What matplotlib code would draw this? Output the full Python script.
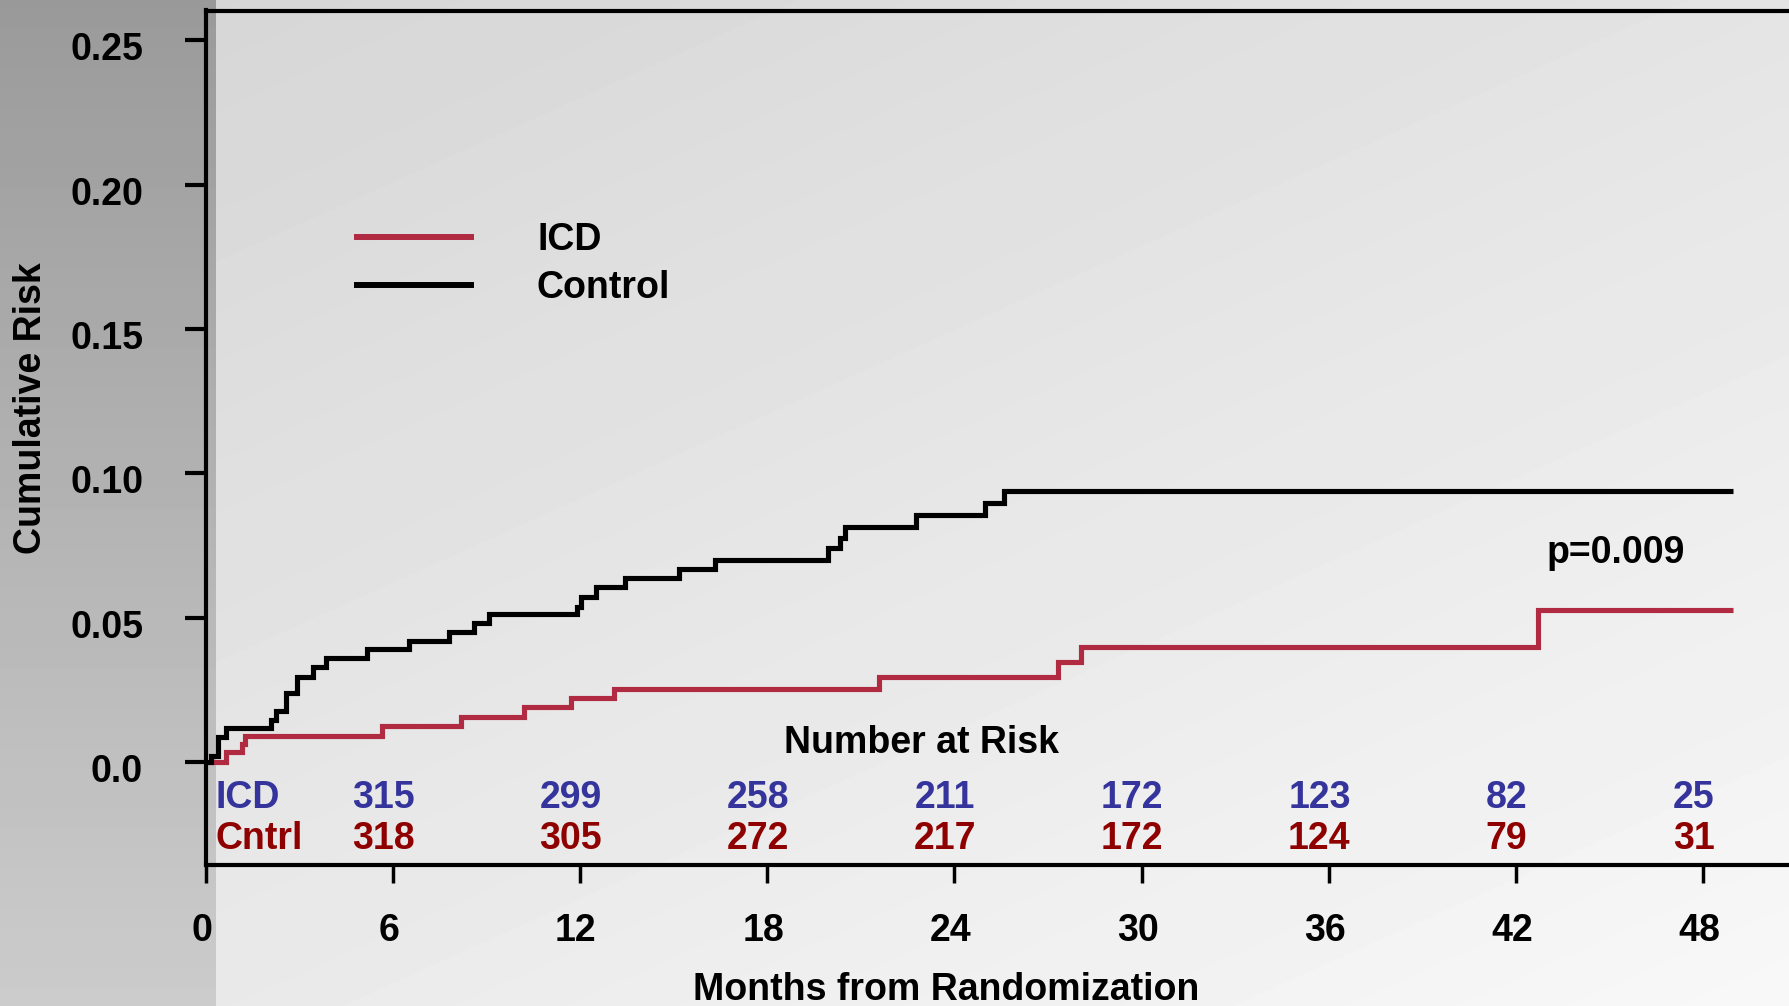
import numpy as np
import matplotlib
matplotlib.use('Agg')
import matplotlib.pyplot as plt
import matplotlib.transforms as mtransforms
from matplotlib.lines import Line2D

plt.rcParams['font.family'] = ['Liberation Sans', 'DejaVu Sans']
plt.rcParams['font.weight'] = 'bold'

# Kaplan-Meier style cumulative risk (months, risk)
control_months = [0, 0.18, 0.41, 0.67, 2.1, 2.27, 2.57, 2.94, 3.43, 3.86, 5.18, 6.52, 7.8, 8.6,
                  9.08, 11.91, 12.02, 12.5, 13.46, 15.17, 16.33, 19.94, 20.32, 20.49, 22.77,
                  24.99, 25.59, 48.97]
control_risk = [0, 0.002, 0.0085, 0.0117, 0.0145, 0.0178, 0.0238, 0.0295, 0.033, 0.0359, 0.039,
                0.0419, 0.0451, 0.048, 0.0511, 0.0538, 0.0572, 0.0605, 0.0636, 0.0667, 0.070,
                0.074, 0.0775, 0.0815, 0.0855, 0.0896, 0.0939, 0.0939]

icd_months = [0, 0.65, 1.16, 1.28, 5.67, 8.19, 10.2, 11.73, 13.1, 21.6, 27.33, 28.06, 42.69, 48.97]
icd_risk = [0, 0.0036, 0.0061, 0.009, 0.0125, 0.0155, 0.0189, 0.0222, 0.0253, 0.0295, 0.0347,
            0.0397, 0.0525, 0.0525]

# number at risk table
risk_months = [6, 12, 18, 24, 30, 36, 42, 48]
icd_at_risk = [315, 299, 258, 211, 172, 123, 82, 25]
cntrl_at_risk = [318, 305, 272, 217, 172, 124, 79, 31]

x_ticks = list(range(0, 49, 6))
y_ticks = [0.0, 0.05, 0.10, 0.15, 0.20, 0.25]
y_tick_labels = ['0.0', '0.05', '0.10', '0.15', '0.20', '0.25']

ICD_RED = '#b02a42'
ROW_BLUE = '#34349c'
ROW_RED = '#8f0000'
FS = 27

W, H = 1789, 1006
fig = plt.figure(figsize=(W / 100, H / 100), dpi=100)

# slide-like gray background with darker band on the left
bg = fig.add_axes([0, 0, 1, 1])
bg.axis('off')
yy, xx = np.mgrid[0:1:H * 1j, 0:1:W * 1j]
main = 212 + 16 * xx + 20 * yy
band = 154 + 50 * yy
img = np.where(xx < 216 / W, band, main) / 255.0
bg.imshow(img, cmap='gray', vmin=0, vmax=1, aspect='auto', extent=[0, 1, 0, 1],
          origin='upper', interpolation='bilinear')
bg.set_xlim(0, 1)
bg.set_ylim(0, 1)

left = 205.5 / W
bottom = 1 - 864.5 / H
top = 1 - 10.5 / H
ax = fig.add_axes([left, bottom, 1 - left, top - bottom])
ax.patch.set_alpha(0)

ax.step(control_months, control_risk, where='post', color='black', lw=3.7,
        solid_joinstyle='miter', solid_capstyle='butt', zorder=3)
ax.step(icd_months, icd_risk, where='post', color=ICD_RED, lw=3.7,
        solid_joinstyle='miter', solid_capstyle='butt', zorder=2)

ax.set_xlim(0, 50.75)
ax.set_ylim(-0.0355, 0.2603)
ax.spines['right'].set_visible(False)
for s in ['left', 'top', 'bottom']:
    ax.spines[s].set_linewidth(3)

ax.set_xticks(x_ticks)
ax.set_yticks(y_ticks)
ax.set_yticklabels(y_tick_labels)
ax.tick_params(axis='y', length=15, width=3, pad=30, labelsize=FS)
ax.tick_params(axis='x', length=13, width=2.5, pad=22, labelsize=FS)

# tick labels sit a little off their ticks in the original
dx = mtransforms.ScaledTranslation(-4 / 100, 0, fig.dpi_scale_trans)
for lab in ax.get_xticklabels():
    lab.set_transform(lab.get_transform() + dx)
dy = mtransforms.ScaledTranslation(0, -6 / 100, fig.dpi_scale_trans)
for lab in ax.get_yticklabels():
    lab.set_transform(lab.get_transform() + dy)

ax.set_xlabel('Months from Randomization', fontsize=FS, fontweight='bold')
ax.xaxis.set_label_coords(0.468, -0.1465)
ax.xaxis.label.set_verticalalignment('center')
ax.set_ylabel('Cumulative Risk', fontsize=FS, fontweight='bold')
ax.yaxis.set_label_coords(-0.110, 0.5345)
ax.yaxis.label.set_verticalalignment('center')

# legend
handles = [Line2D([], [], color=ICD_RED, lw=4.3), Line2D([], [], color='black', lw=4.3)]
ax.legend(handles, ['ICD', 'Control'], loc='upper left', bbox_to_anchor=(357 / W, 1 - 222 / H),
          bbox_transform=fig.transFigure, frameon=False, fontsize=FS, handlelength=3.05,
          handletextpad=1.75, labelspacing=0.33, borderpad=0, borderaxespad=0)

ax.text(45.2, 0.0724, 'p=0.009', ha='center', va='center', fontsize=FS, fontweight='bold')

# number at risk
ax.text(22.96, 0.0066, 'Number at Risk', ha='center', va='center', fontsize=FS, fontweight='bold')
ax.text(0.33, -0.0125, 'ICD', ha='left', va='center', fontsize=FS, fontweight='bold', color=ROW_BLUE)
ax.text(0.33, -0.0268, 'Cntrl', ha='left', va='center', fontsize=FS, fontweight='bold', color=ROW_RED)
for m, a, b in zip(risk_months, icd_at_risk, cntrl_at_risk):
    ax.text(m - 0.3, -0.0125, str(a), ha='center', va='center', fontsize=FS,
            fontweight='bold', color=ROW_BLUE)
    ax.text(m - 0.3, -0.0268, str(b), ha='center', va='center', fontsize=FS,
            fontweight='bold', color=ROW_RED)

fig.savefig('out.png', dpi=100)
